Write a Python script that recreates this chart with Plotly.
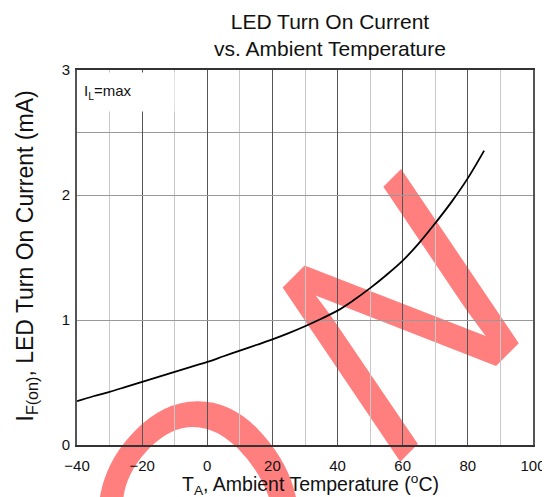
import plotly.graph_objects as go

# Data
temperature_c = [-40, -35, -30, -25, -20, -15, -10, -5, 0, 5, 10, 15, 20, 25,
                 30, 35, 40, 45, 50, 55, 60, 65, 70, 75, 80, 85]
if_on_ma = [0.35, 0.39, 0.425, 0.465, 0.505, 0.545, 0.585, 0.625, 0.665, 0.71,
            0.755, 0.80, 0.845, 0.895, 0.95, 1.01, 1.075, 1.16, 1.255, 1.36,
            1.475, 1.615, 1.775, 1.945, 2.135, 2.355]

x_major_ticks = [-40, -20, 0, 20, 40, 60, 80, 100]
x_minor_grid = [-30, -10, 10, 30, 50, 70, 90]
y_major_ticks = [0, 1, 2, 3]
y_minor_grid = [2.5]

FONT = "Liberation Sans, Arial, sans-serif"

fig = go.Figure()
fig.add_trace(go.Scatter(
    x=temperature_c, y=if_on_ma, mode="lines",
    line=dict(color="#000000", width=1.8, shape="spline"),
    showlegend=False, hoverinfo="skip",
))

fig.update_layout(
    width=550, height=497,
    margin=dict(l=69, r=19, t=62, b=60),
    paper_bgcolor="#ffffff",
    plot_bgcolor="rgba(0,0,0,0)",
    font=dict(family=FONT, color="#111111"),
    title=dict(
        text="LED Turn On Current<br>vs. Ambient Temperature",
        x=322 / 550, xref="container", xanchor="center",
        y=1 - 21 / 497, yref="container", yanchor="middle",
        font=dict(size=21, family=FONT, color="#111111"),
    ),
    xaxis=dict(
        range=[-40, 100], tickvals=x_major_ticks,
        ticks="outside", ticklen=6, tickcolor="rgba(0,0,0,0)",
        tickfont=dict(size=15, family=FONT, color="#111111"),
        showgrid=True, gridcolor="#555555", gridwidth=1,
        minor=dict(tickvals=x_minor_grid, showgrid=True, gridcolor="#c8c8c8",
                   gridwidth=1, ticks=""),
        showline=True, mirror=True, linecolor="#333333", linewidth=2,
        zeroline=False, fixedrange=True,
    ),
    yaxis=dict(
        range=[0, 3], tickvals=y_major_ticks,
        ticks="outside", ticklen=2, tickcolor="rgba(0,0,0,0)",
        tickfont=dict(size=15, family=FONT, color="#111111"),
        showgrid=True, gridcolor="#999999", gridwidth=1,
        minor=dict(tickvals=y_minor_grid, showgrid=True, gridcolor="#999999",
                   gridwidth=1, ticks=""),
        showline=True, mirror=True, linecolor="#555555", linewidth=2,
        zeroline=False, fixedrange=True,
    ),
)

# Watermark (text), drawn below the grid and the curve
fig.add_shape(
    type="rect", xref="paper", yref="paper",
    x0=0.4295, x1=0.4315, y0=0.1137, y1=0.1157,
    line=dict(width=0), fillcolor="rgba(0,0,0,0)", layer="below",
    label=dict(text="O\u2009N", textangle=-45, textposition="middle center",
               font=dict(size=300, family=FONT, color="rgba(255,0,0,0.5)",
                         style="italic")),
)

# Condition label in the top-left corner
fig.add_annotation(
    text="I<sub>L</sub>=max", xref="paper", yref="paper",
    x=0, y=1, xanchor="left", yanchor="top", xshift=2, yshift=-2,
    width=86, height=30, align="left", valign="middle", borderpad=4,
    bgcolor="#ffffff", showarrow=False,
    font=dict(size=15, family=FONT, color="#111111"),
)

# Axis titles
fig.add_annotation(
    text="T<sub>A</sub>, Ambient Temperature (<sup>o</sup>C)",
    xref="paper", yref="paper", x=0.513, y=-0.104,
    xanchor="center", yanchor="middle", showarrow=False,
    font=dict(size=19.5, family=FONT, color="#111111"),
)
fig.add_annotation(
    text="I<sub>F(on)</sub>, LED Turn On Current (mA)",
    xref="paper", yref="paper", x=-0.11, y=0.505,
    xanchor="center", yanchor="middle", textangle=-90, showarrow=False,
    font=dict(size=23, family=FONT, color="#111111"),
)

fig.write_html("out.html")
